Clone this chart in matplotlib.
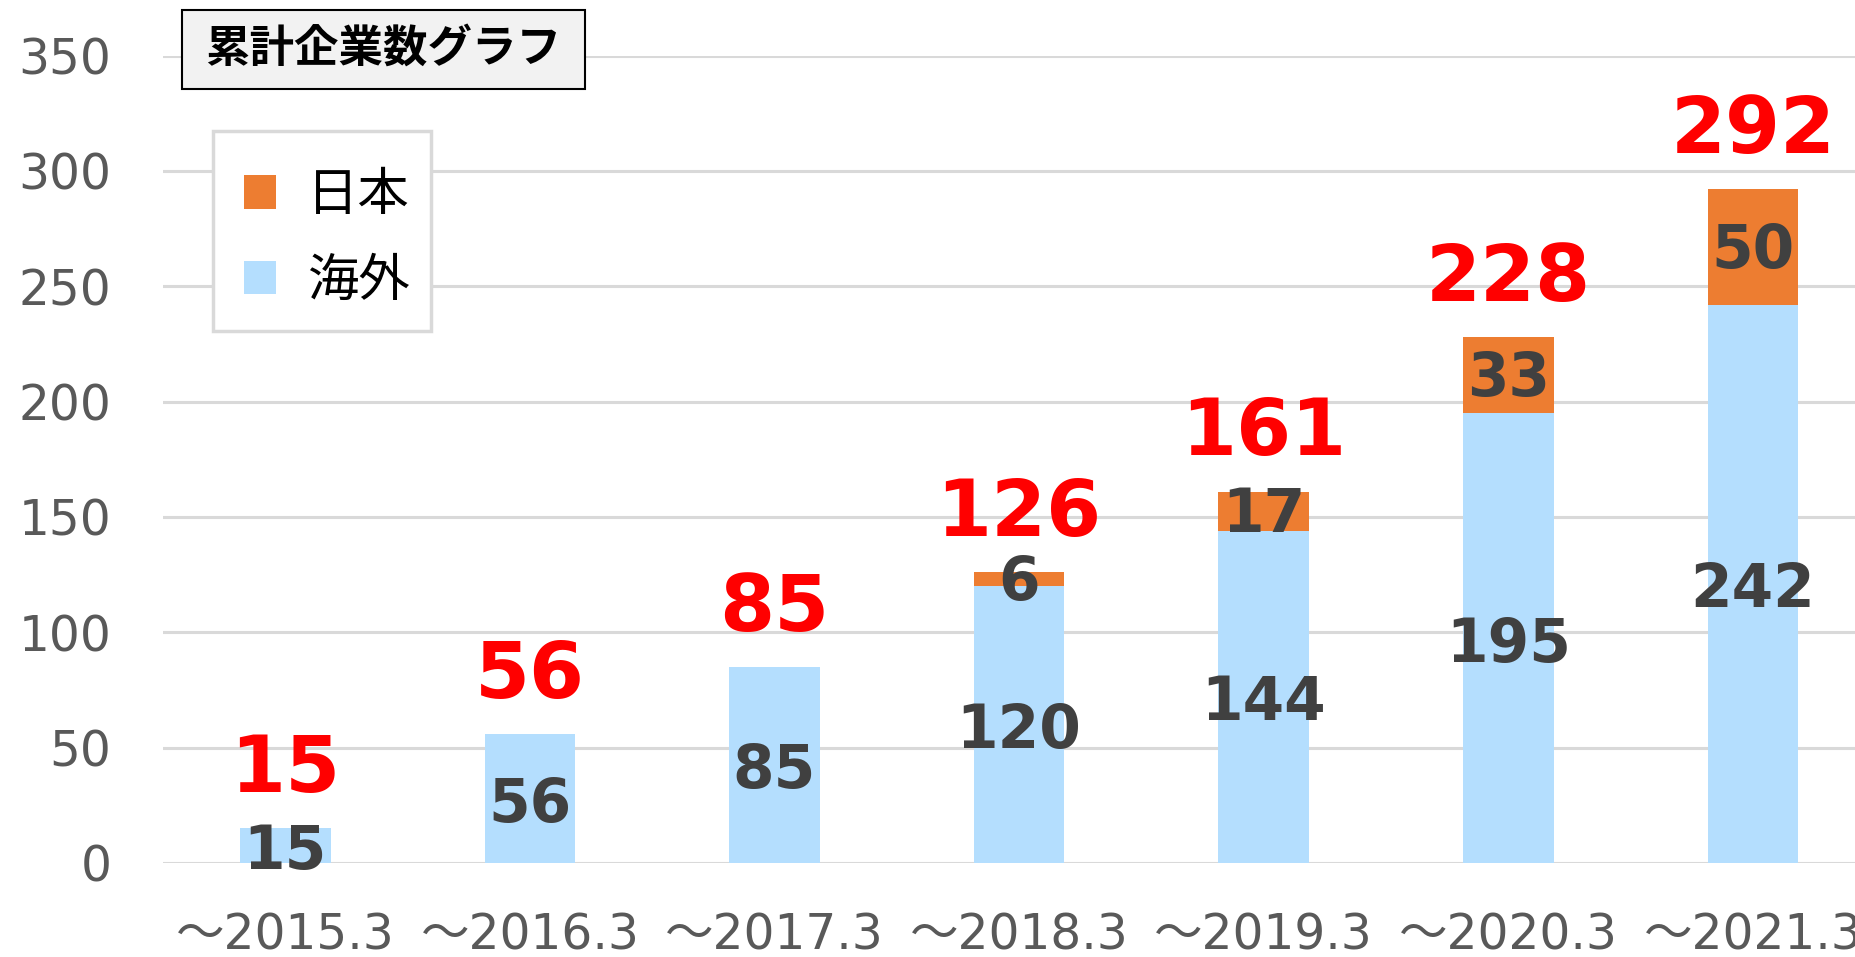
import numpy as np
import matplotlib
matplotlib.use("Agg")
import matplotlib.pyplot as plt
from matplotlib.patches import Patch, Rectangle

plt.rcParams['font.family'] = ['DejaVu Sans', 'Noto Sans CJK JP']

# Data
periods = ['～2015.3', '～2016.3', '～2017.3', '～2018.3', '～2019.3', '～2020.3', '～2021.3']
overseas = [15, 56, 85, 120, 144, 195, 242]   # 海外
japan = [0, 0, 0, 6, 17, 33, 50]              # 日本
y_ticks = [0, 50, 100, 150, 200, 250, 300, 350]

blue = '#B4DEFE'
orange = '#ED7D31'
grid_col = '#D9D9D9'
tick_col = '#595959'
label_col = '#404040'

W, H = 1856, 957
fig = plt.figure(figsize=(W / 100, H / 100), dpi=100)
# axes runs a little past the right edge, like the cropped original
ax = fig.add_axes([163 / W, 1 - 863 / H, 7 * 244.6 / W, (863 - 55.6) / H])

x = np.arange(len(periods))
overseas = np.array(overseas)
japan = np.array(japan)
totals = overseas + japan
bw = 0.37

ax.bar(x, overseas, width=bw, color=blue, zorder=2)
ax.bar(x, japan, width=bw, bottom=overseas, color=orange, zorder=2)

# segment labels
for i in range(len(x)):
    ax.annotate(str(overseas[i]), (x[i], overseas[i] / 2), xytext=(0, -5),
                textcoords='offset points', ha='center', va='center',
                fontsize=43, fontweight='bold', color=label_col, zorder=3)
    if japan[i] > 0:
        ax.annotate(str(japan[i]), (x[i], overseas[i] + japan[i] / 2), xytext=(0, -3),
                    textcoords='offset points', ha='center', va='center',
                    fontsize=43, fontweight='bold', color=label_col, zorder=3)
    # totals in red above the bars
    ax.annotate(str(totals[i]), (x[i], totals[i]), xytext=(0, 26),
                textcoords='offset points', ha='center', va='baseline',
                fontsize=57, fontweight='bold', color='#FF0000', zorder=3)

ax.set_xlim(-0.5, len(x) - 0.5)
ax.set_ylim(0, 350)
ax.set_yticks(y_ticks)
ax.set_xticks(x)
ax.set_xticklabels(periods)
ax.yaxis.grid(True, color=grid_col, linewidth=2.2, zorder=0)
ax.set_axisbelow(True)
for s in ax.spines.values():
    s.set_visible(False)
ax.tick_params(axis='y', length=0, pad=37, labelsize=35, labelcolor=tick_col)
ax.tick_params(axis='x', length=0, pad=35, labelsize=35, labelcolor=tick_col)

# legend: frame drawn separately, entries without their own frame
fig.patches.append(Rectangle((213 / W, 1 - 331 / H), 218 / W, 200 / H,
                             transform=fig.transFigure, facecolor='white',
                             edgecolor=grid_col, linewidth=2.5, zorder=4))
handles = [Patch(facecolor=orange, label='日本'), Patch(facecolor=blue, label='海外')]
leg = fig.legend(handles=handles, loc='upper left',
                 bbox_to_anchor=(244 / W, 1 - 171 / H), bbox_transform=fig.transFigure,
                 borderaxespad=0, borderpad=0, fontsize=37, handlelength=0.62,
                 handleheight=0.62, handletextpad=0.6, labelspacing=0.69,
                 frameon=False)
leg.set_zorder(5)

# title box
fig.patches.append(Rectangle((182 / W, 1 - 89 / H), 403 / W, 79 / H,
                             transform=fig.transFigure, facecolor='#F2F2F2',
                             edgecolor='black', linewidth=1.5, zorder=5))
fig.text(383.5 / W, 1 - 49 / H, '累計企業数グラフ', ha='center', va='center',
         fontsize=32, fontweight='bold', family=['Noto Sans CJK JP'], color='black',
         zorder=6)

fig.savefig('out.png', dpi=100)
